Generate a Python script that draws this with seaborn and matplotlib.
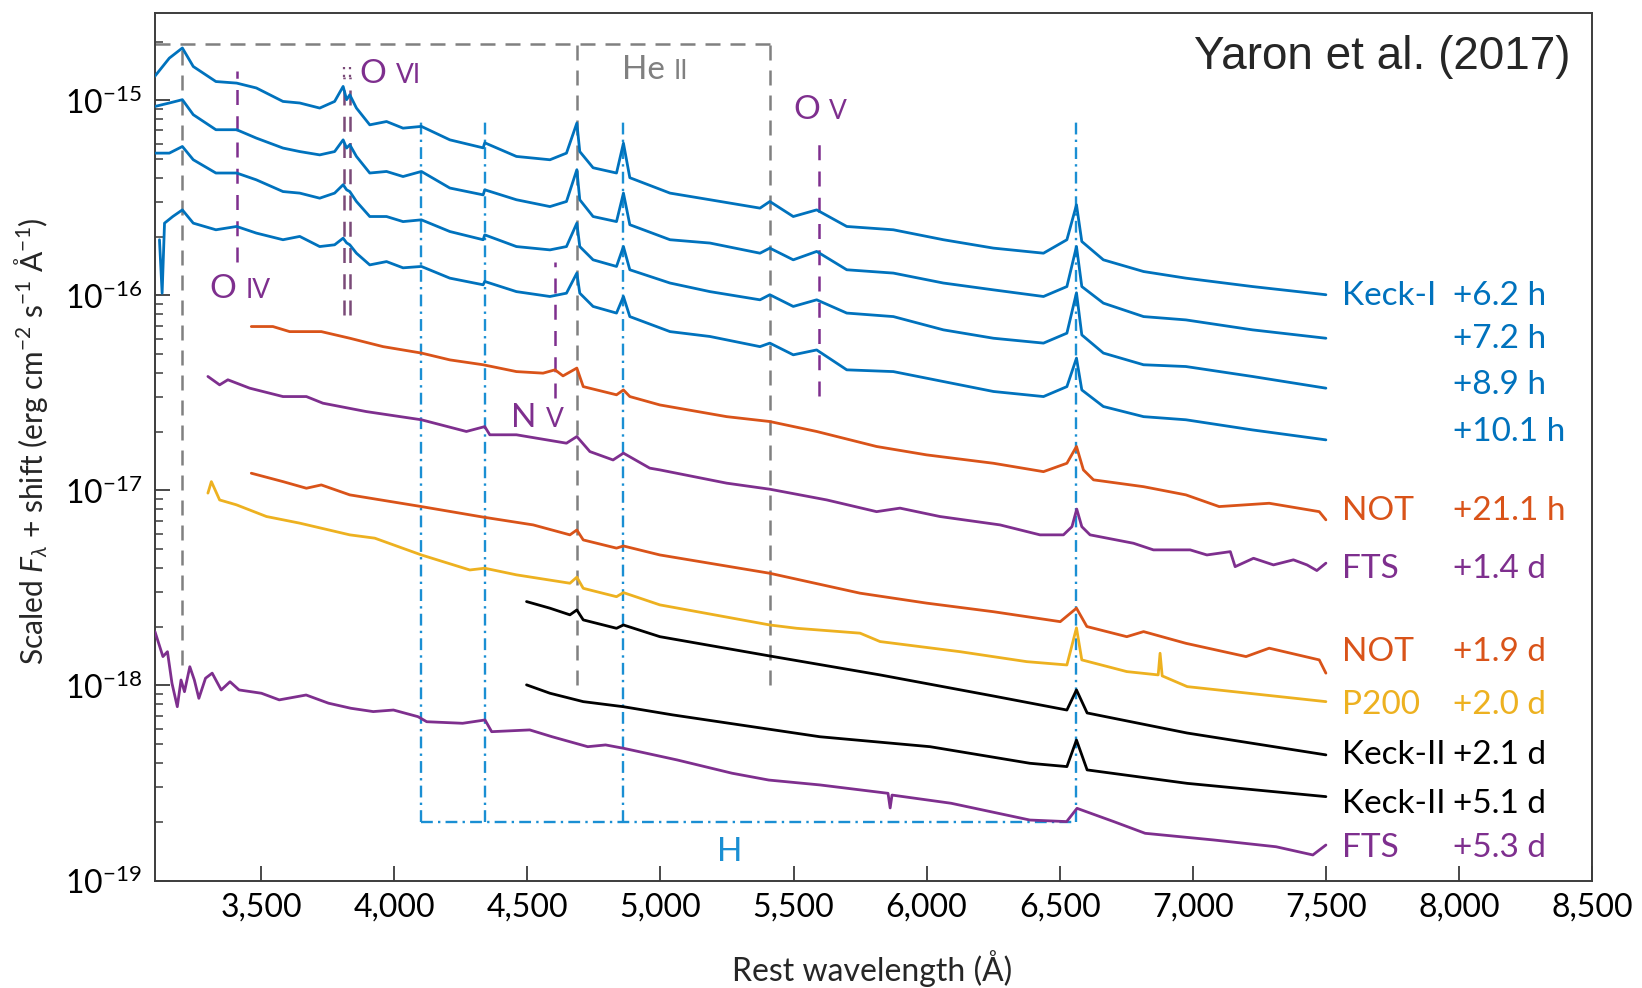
import matplotlib
matplotlib.use("Agg")
import matplotlib.pyplot as plt
from matplotlib.ticker import FuncFormatter, FixedLocator, LogLocator, NullFormatter, LogFormatterSciNotation
import numpy as np
import pandas as pd
import seaborn as sns

# ---------------------------------------------------------------------------
# Spectra: rest wavelength (Angstrom) and log10 of scaled flux (+ shift)
# ---------------------------------------------------------------------------
keck1_wl = [3100, 3155, 3204, 3245, 3330, 3408, 3482, 3582, 3645, 3720,
            3776, 3808, 3821, 3833, 3858, 3908, 3971, 4033, 4102, 4209,
            4334, 4340, 4459, 4585, 4647, 4686, 4697, 4747, 4835, 4861,
            4885, 5036, 5186, 5374, 5411, 5499, 5587, 5700, 5875, 6063,
            6251, 6439, 6527, 6563, 6583, 6664, 6815, 6974, 7224, 7500]

keck1_62h_logf = [-14.878, -14.784, -14.732, -14.827, -14.904, -14.912, -14.937, -15.006, -15.014, -15.040,
                  -15.006, -14.929, -14.997, -14.972, -15.040, -15.126, -15.109, -15.143, -15.134, -15.203,
                  -15.244, -15.218, -15.288, -15.305, -15.271, -15.117, -15.263, -15.346, -15.373, -15.220,
                  -15.397, -15.476, -15.510, -15.553, -15.519, -15.596, -15.562, -15.647, -15.664, -15.715,
                  -15.758, -15.784, -15.715, -15.536, -15.724, -15.818, -15.878, -15.912, -15.955, -15.997]

keck1_72h_logf = [-15.032, -15.014, -14.997, -15.074, -15.151, -15.151, -15.194, -15.245, -15.263, -15.280,
                  -15.263, -15.203, -15.245, -15.228, -15.288, -15.373, -15.365, -15.391, -15.365, -15.450,
                  -15.485, -15.459, -15.510, -15.545, -15.519, -15.356, -15.510, -15.596, -15.622, -15.476,
                  -15.638, -15.715, -15.732, -15.784, -15.758, -15.818, -15.775, -15.869, -15.886, -15.937,
                  -15.972, -16.006, -15.955, -15.750, -15.955, -16.040, -16.109, -16.126, -16.177, -16.220]

keck1_89h_logf = [-15.271, -15.271, -15.237, -15.305, -15.373, -15.373, -15.408, -15.468, -15.476, -15.502,
                  -15.476, -15.433, -15.459, -15.468, -15.519, -15.596, -15.596, -15.622, -15.613, -15.673,
                  -15.715, -15.690, -15.750, -15.767, -15.750, -15.630, -15.750, -15.818, -15.852, -15.750,
                  -15.869, -15.937, -15.981, -16.023, -15.997, -16.057, -16.023, -16.091, -16.109, -16.177,
                  -16.220, -16.245, -16.194, -15.987, -16.203, -16.296, -16.356, -16.365, -16.416, -16.476]

keck1_101h_wl = [3118, 3128, 3137, 3168] + keck1_wl[2:]
keck1_101h_logf = [-15.715, -15.989, -15.630, -15.596,
                   -15.562, -15.630, -15.664, -15.647, -15.681, -15.715, -15.698, -15.750, -15.741,
                   -15.707, -15.731, -15.741, -15.784, -15.844, -15.827, -15.859, -15.852, -15.912,
                   -15.946, -15.929, -15.981, -16.006, -15.989, -15.886, -15.989, -16.057, -16.091,
                   -16.006, -16.109, -16.186, -16.211, -16.263, -16.245, -16.305, -16.280, -16.382,
                   -16.391, -16.442, -16.493, -16.519, -16.468, -16.322, -16.485, -16.570, -16.622,
                   -16.638, -16.690, -16.741]

not_211h_wl = [3463, 3544, 3607, 3726, 3833, 3958, 4102, 4209, 4334, 4459,
               4559, 4604, 4634, 4686, 4710, 4835, 4861, 4885, 4998, 5249,
               5411, 5587, 5812, 6000, 6251, 6439, 6527, 6563, 6589, 6627,
               6815, 6974, 7099, 7287, 7475, 7500]
not_211h_logf = [-16.160, -16.160, -16.186, -16.186, -16.220, -16.263, -16.296, -16.331, -16.356, -16.391,
                 -16.399, -16.382, -16.413, -16.373, -16.468, -16.510, -16.485, -16.519, -16.562, -16.622,
                 -16.647, -16.698, -16.775, -16.818, -16.861, -16.904, -16.861, -16.775, -16.895, -16.946,
                 -16.981, -17.023, -17.083, -17.066, -17.109, -17.151]

fts_14d_wl = [3300, 3344, 3375, 3457, 3582, 3670, 3732, 3895, 4102, 4271,
              4340, 4359, 4459, 4647, 4686, 4735, 4822, 4861, 4960, 4998,
              5249, 5411, 5625, 5812, 5900, 6050, 6276, 6426, 6514, 6546,
              6564, 6583, 6614, 6777, 6852, 6990, 7053, 7141, 7159, 7228,
              7303, 7378, 7429, 7466, 7500]
fts_14d_logf = [-16.416, -16.459, -16.433, -16.476, -16.519, -16.519, -16.553, -16.596, -16.638, -16.698,
                -16.673, -16.715, -16.715, -16.758, -16.724, -16.801, -16.844, -16.809, -16.886, -16.895,
                -16.963, -16.994, -17.049, -17.109, -17.091, -17.134, -17.177, -17.228, -17.228, -17.186,
                -17.096, -17.186, -17.228, -17.271, -17.305, -17.305, -17.331, -17.314, -17.391, -17.348,
                -17.382, -17.356, -17.382, -17.411, -17.373]

not_19d_wl = [3463, 3582, 3670, 3726, 3833, 4102, 4334, 4522, 4660, 4686,
              4710, 4835, 4861, 4998, 5411, 5750, 6000, 6251, 6502, 6563,
              6602, 6752, 6815, 6974, 7200, 7287, 7475, 7500]
not_19d_logf = [-16.912, -16.955, -16.989, -16.972, -17.023, -17.083, -17.137, -17.177, -17.228, -17.203,
                -17.254, -17.296, -17.285, -17.331, -17.425, -17.527, -17.578, -17.622, -17.673, -17.604,
                -17.698, -17.750, -17.724, -17.784, -17.852, -17.809, -17.869, -17.937]

p200_20d_wl = [3300, 3313, 3344, 3407, 3520, 3645, 3833, 3927, 4102, 4284,
               4340, 4459, 4660, 4686, 4710, 4835, 4861, 4998, 5411, 5512,
               5750, 5825, 6126, 6376, 6527, 6563, 6583, 6752, 6870, 6877,
               6885, 6979, 7500]
p200_20d_logf = [-17.014, -16.955, -17.049, -17.074, -17.134, -17.168, -17.228, -17.245, -17.331, -17.408,
                 -17.399, -17.433, -17.476, -17.445, -17.502, -17.545, -17.524, -17.587, -17.690, -17.707,
                 -17.732, -17.775, -17.827, -17.878, -17.895, -17.705, -17.869, -17.929, -17.946, -17.835,
                 -17.951, -18.006, -18.083]

keck2_21d_wl = [4497, 4585, 4660, 4686, 4710, 4835, 4861, 4998, 5411, 5825,
                6250, 6527, 6563, 6603, 6979, 7500]
keck2_21d_logf = [-17.570, -17.604, -17.638, -17.613, -17.664, -17.707, -17.690, -17.750, -17.849, -17.946,
                  -18.054, -18.126, -18.023, -18.141, -18.244, -18.356]

keck2_51d_wl = [4497, 4585, 4710, 4861, 5046, 5599, 6013, 6388, 6527, 6563,
                6603, 6979, 7500]
keck2_51d_logf = [-17.997, -18.040, -18.083, -18.109, -18.151, -18.263, -18.314, -18.399, -18.416, -18.280,
                  -18.433, -18.502, -18.570]

fts_53d_wl = [3101, 3131, 3148, 3165, 3185, 3199, 3212, 3232, 3249, 3266,
              3291, 3316, 3350, 3383, 3417, 3501, 3568, 3669, 3753, 3837,
              3921, 3997, 4089, 4122, 4257, 4341, 4366, 4509, 4593, 4727,
              4794, 4861, 5063, 5269, 5407, 5599, 5855, 5863, 5870, 6092,
              6388, 6526, 6565, 6703, 6821, 7077, 7313, 7451, 7500]
fts_53d_logf = [-17.724, -17.852, -17.827, -17.989, -18.109, -17.972, -18.032, -17.904, -17.972, -18.066,
                -17.963, -17.937, -18.023, -17.981, -18.023, -18.040, -18.074, -18.049, -18.091, -18.117,
                -18.134, -18.126, -18.160, -18.186, -18.194, -18.177, -18.237, -18.228, -18.263, -18.314,
                -18.305, -18.322, -18.382, -18.450, -18.485, -18.510, -18.553, -18.628, -18.562, -18.604,
                -18.690, -18.698, -18.630, -18.698, -18.758, -18.792, -18.827, -18.869, -18.818]

# Right-hand labels: instrument, epoch, and the flux level of each label's baseline
label_instruments = ["Keck-I", "", "", "", "NOT", "FTS", "NOT", "P200", "Keck-II", "Keck-II", "FTS"]
label_epochs = ["+6.2 h", "+7.2 h", "+8.9 h", "+10.1 h", "+21.1 h", "+1.4 d",
                "+1.9 d", "+2.0 d", "+2.1 d", "+5.1 d", "+5.3 d"]
label_flux = [8.94e-17, 5.36e-17, 3.11e-17, 1.79e-17, 7.06e-18, 3.55e-18,
              1.34e-18, 7.14e-19, 3.96e-19, 2.21e-19, 1.32e-19]

# Line identifications (rest wavelengths) and the flux span of their markers
heii_lines = [3203, 4686, 5411]
heii_bottom = [1.27e-18, 1.0e-18, 1.0e-18]
heii_top = 1.94e-15
h_lines = [4102, 4340, 4861, 6563]
h_top, h_bottom = 7.9e-16, 2.0e-19
oiv_line, oiv_span = 3411, (1.49e-16, 1.41e-15)
ovi_lines, ovi_span = [3811, 3834], (7.9e-17, 1.32e-15)
nv_line, nv_span = 4604, (2.97e-17, 1.49e-16)
ov_line, ov_span = 5597, (3.03e-17, 6.65e-16)

BLUE = "#0072BD"
ORANGE = "#D95319"
PURPLE = "#7E2F8E"
YELLOW = "#EDB120"
BLACK = "#000000"
GRAY = "#808080"
HBLUE = "#1a8fd3"
MAUVE = "#7a4a78"

spectra = [
    ("Keck-I +6.2 h", keck1_wl, keck1_62h_logf, BLUE),
    ("Keck-I +7.2 h", keck1_wl, keck1_72h_logf, BLUE),
    ("Keck-I +8.9 h", keck1_wl, keck1_89h_logf, BLUE),
    ("Keck-I +10.1 h", keck1_101h_wl, keck1_101h_logf, BLUE),
    ("NOT +21.1 h", not_211h_wl, not_211h_logf, ORANGE),
    ("FTS +1.4 d", fts_14d_wl, fts_14d_logf, PURPLE),
    ("NOT +1.9 d", not_19d_wl, not_19d_logf, ORANGE),
    ("P200 +2.0 d", p200_20d_wl, p200_20d_logf, YELLOW),
    ("Keck-II +2.1 d", keck2_21d_wl, keck2_21d_logf, BLACK),
    ("Keck-II +5.1 d", keck2_51d_wl, keck2_51d_logf, BLACK),
    ("FTS +5.3 d", fts_53d_wl, fts_53d_logf, PURPLE),
]

frames = [pd.DataFrame({"spectrum": name, "wavelength": wl,
                        "flux": np.power(10.0, np.asarray(lf))})
          for name, wl, lf, _ in spectra]
df = pd.concat(frames, ignore_index=True)
palette = {name: c for name, _, _, c in spectra}
hue_order = [name for name, _, _, _ in spectra]

# ---------------------------------------------------------------------------
# Style
# ---------------------------------------------------------------------------
sns.set_style("ticks")
plt.rcParams.update({
    "font.family": ["Lato", "DejaVu Sans"],
    "mathtext.fontset": "custom",
    "mathtext.rm": "Lato",
    "mathtext.it": "Lato:italic",
    "mathtext.bf": "Lato:bold",
    "axes.edgecolor": "#3c3c3c",
    "axes.linewidth": 1.4,
})

fig = plt.figure(figsize=(16.42, 9.88), dpi=100)
ax = fig.add_axes([0.0942, 0.1088, 0.8754, 0.8780])
ax.set_yscale("log")
ax.set_xlim(3100, 8500)
ax.set_ylim(1e-19, 2.8e-15)

# He II box (grey dashed)
ax.plot([3100, heii_lines[-1]], [heii_top, heii_top], color=GRAY, lw=1.8,
        dashes=(6, 4), zorder=1)
for wl, bot in zip(heii_lines, heii_bottom):
    ax.plot([wl, wl], [bot, heii_top], color=GRAY, lw=1.8, dashes=(6, 4), zorder=1)

# Balmer lines (blue dash-dot) joined along the bottom
hdash = (5, 2.2, 1, 2.2)
for wl in h_lines:
    ax.plot([wl, wl], [h_bottom, h_top], color=HBLUE, lw=1.7, dashes=hdash, zorder=1)
ax.plot([h_lines[0], h_lines[-1]], [h_bottom, h_bottom], color=HBLUE, lw=1.7,
        dashes=hdash, zorder=1)

# Oxygen / nitrogen markers (purple dashed)
for wl, (lo, hi) in [(oiv_line, oiv_span), (nv_line, nv_span), (ov_line, ov_span)]:
    ax.plot([wl, wl], [lo, hi], color=PURPLE, lw=1.8, dashes=(6, 4.5), zorder=1)
for wl in ovi_lines:
    ax.plot([wl, wl], [ovi_span[0], ovi_span[1]], color=MAUVE, lw=1.8,
            dashes=(6, 4.5), zorder=1)
    ax.plot([wl, wl], [ovi_span[1], 1.55e-15], color=MAUVE, lw=1.6,
            dashes=(1, 2.5), zorder=1)

# Spectra
sns.lineplot(data=df, x="wavelength", y="flux", hue="spectrum", hue_order=hue_order,
             palette=palette, estimator=None, sort=False, legend=False,
             linewidth=2.0, ax=ax, zorder=3)

# Axes, ticks
ax.set_xticks(np.arange(3500, 8501, 500))
ax.xaxis.set_major_formatter(FuncFormatter(lambda v, p: f"{int(round(v)):,}"))
ax.yaxis.set_major_locator(FixedLocator([1e-19, 1e-18, 1e-17, 1e-16, 1e-15]))
ax.yaxis.set_major_formatter(LogFormatterSciNotation())
ax.yaxis.set_minor_locator(LogLocator(base=10, subs=np.arange(2, 10), numticks=12))
ax.yaxis.set_minor_formatter(NullFormatter())
ax.tick_params(which="major", direction="in", length=11, width=1.3, color="#3c3c3c",
               labelsize=23, pad=9, labelcolor="black")
ax.tick_params(which="minor", direction="in", length=6, width=1.1, color="#3c3c3c")
ax.tick_params(axis="x", which="minor", bottom=False)
ax.set_xlabel("")
ax.set_ylabel("")
for s in ax.spines.values():
    s.set_visible(True)

fig.text(872 / 1642, 1 - 969 / 988, "Rest wavelength (Å)", ha="center", va="center",
         fontsize=23)
fig.text(31 / 1642, 1 - 441 / 988,
         r"Scaled $F_\lambda$ + shift (erg cm$^{-2}$ s$^{-1}$ Å$^{-1}$)",
         ha="center", va="center", rotation=90, fontsize=21.5)
fig.text(1570.7 / 1642, 1 - 69.3 / 988, "Yaron et al. (2017)", ha="right",
         va="baseline", fontsize=33, family=["Liberation Sans", "DejaVu Sans"])

# Line-identification labels: element followed by small-caps ionisation stage
renderer = fig.canvas.get_renderer()


def ion_label(wl, flux, element, stage, color):
    t = ax.text(wl, flux, element, color=color, fontsize=24, ha="left",
                va="baseline", zorder=4)
    bb = t.get_window_extent(renderer)
    x_next = ax.transData.inverted().transform((bb.x1 + 9, bb.y0))[0]
    ax.text(x_next, flux, stage, color=color, fontsize=19, ha="left",
            va="baseline", zorder=4)


ion_label(3306, 9.68e-17, "O", "IV", PURPLE)
ion_label(3870, 1.225e-15, "O", "VI", PURPLE)
ion_label(4854, 1.285e-15, "He", "II", GRAY)
ion_label(5499, 8.01e-16, "O", "V", PURPLE)
ion_label(4440, 2.12e-17, "N", "V", PURPLE)
ax.text(5261, 1.26e-19, "H", color=HBLUE, fontsize=24, ha="center", va="baseline")

# Instrument / epoch labels on the right
colors_right = [c for _, _, _, c in spectra]
for inst, epoch, fl, c in zip(label_instruments, label_epochs, label_flux, colors_right):
    if inst:
        ax.text(7560, fl, inst, color=c, fontsize=24, ha="left", va="baseline")
    ax.text(7979, fl, epoch, color=c, fontsize=24, ha="left", va="baseline")

fig.savefig("out.png", dpi=100)
